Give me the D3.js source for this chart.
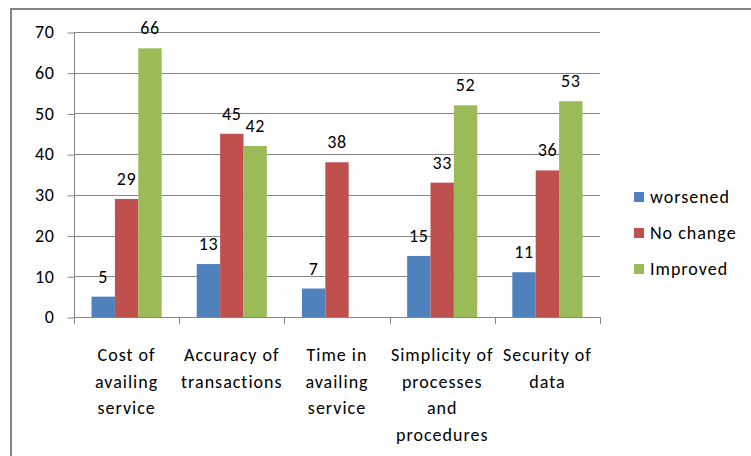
<!DOCTYPE html>
<html>
<head>
<meta charset="utf-8">
<script src="https://cdn.jsdelivr.net/npm/d3@7"></script>
<style>
  body { margin: 0; background: #fff; }
  svg text { font-family: Carlito, Lato, sans-serif; fill: #000; }
</style>
</head>
<body>
<script>
// chart data
var categories = ["Cost of\navailing\nservice", "Accuracy of\ntransactions", "Time in\navailing\nservice",
                  "Simplicity of\nprocesses\nand\nprocedures", "Security of\ndata"];
var seriesNames = ["worsened", "No change", "Improved"];
var worsened = [5, 13, 7, 15, 11];
var noChange = [29, 45, 38, 33, 36];
var improved = [66, 42, null, 52, 53];
var yTicks = [0, 10, 20, 30, 40, 50, 60, 70];
var colors = ["#4F81BD", "#C0504D", "#9BBB59"];

var width = 751, height = 456;
var svg = d3.select('body').append('svg').attr('width', width).attr('height', height);

// outer chart border
svg.append('rect').attr('x', 11).attr('y', 9).attr('width', 760).attr('height', 470)
  .attr('fill', 'none').attr('stroke', '#858585').attr('stroke-width', 2);

// plot area (window.top is reserved, so plot* names)
var plotLeft = 74, plotRight = 600, plotTop = 32, plotBottom = 317;

var x = d3.scaleBand().domain(d3.range(categories.length)).range([plotLeft, plotRight]).paddingInner(0).paddingOuter(0);
var y = d3.scaleLinear().domain([0, 70]).range([plotBottom, plotTop]);
var barW = x.bandwidth() / 4.5;
var inner = d3.scaleBand().domain(d3.range(3)).range([0, barW * 3]);

// gridlines
svg.append('g').selectAll('line').data(yTicks.slice(1)).enter().append('line')
  .attr('x1', plotLeft).attr('x2', plotRight)
  .attr('y1', function (d) { return Math.round(y(d)) + 0.5; }).attr('y2', function (d) { return Math.round(y(d)) + 0.5; })
  .attr('stroke', '#868686');

// bars
var series = [worsened, noChange, improved];
series.forEach(function (vals, s) {
  var g = svg.append('g');
  vals.forEach(function (v, i) {
    if (v == null) return;
    var bx = x(i) + (x.bandwidth() - barW * 3) / 2 + inner(s);
    g.append('rect').attr('x', bx).attr('y', y(v)).attr('width', barW).attr('height', plotBottom - y(v))
      .attr('fill', colors[s]);
    g.append('text').attr('x', bx + barW / 2).attr('y', y(v) - 14)
      .attr('text-anchor', 'middle').attr('font-size', 18).attr('letter-spacing', 0.6).text(v);
  });
});

// y axis
var yAxis = d3.axisLeft(y).tickValues(yTicks).tickSize(7).tickPadding(13);
var ya = svg.append('g').attr('transform', 'translate(' + (plotLeft + 0.5) + ',0)').call(yAxis);
ya.select('.domain').attr('stroke', '#868686').attr('d', 'M0,' + plotTop + 'V' + (plotBottom + 0.5));
ya.selectAll('.tick line').attr('stroke', '#868686').attr('transform', 'translate(0,0.5)');
ya.selectAll('.tick text').attr('font-size', 18).attr('letter-spacing', 0.6)
  .attr('font-family', 'Carlito, Lato, sans-serif').attr('fill', '#000');

// x axis line and ticks
svg.append('line').attr('x1', plotLeft).attr('x2', plotRight + 1).attr('y1', plotBottom + 0.5).attr('y2', plotBottom + 0.5)
  .attr('stroke', '#868686');
svg.append('g').selectAll('line').data(d3.range(categories.length + 1)).enter().append('line')
  .attr('x1', function (d) { return Math.round(plotLeft + d * x.bandwidth()) + 0.5; })
  .attr('x2', function (d) { return Math.round(plotLeft + d * x.bandwidth()) + 0.5; })
  .attr('y1', plotBottom).attr('y2', plotBottom + 7).attr('stroke', '#868686');

// category labels
categories.forEach(function (c, i) {
  var t = svg.append('text').attr('text-anchor', 'middle').attr('font-size', 18).attr('letter-spacing', 1)
    .attr('x', x(i) + x.bandwidth() / 2);
  c.split('\n').forEach(function (line, k) {
    t.append('tspan').attr('x', x(i) + x.bandwidth() / 2).attr('y', 361 + k * 26.5).text(line);
  });
});

// legend
var leg = svg.append('g');
seriesNames.forEach(function (n, s) {
  var cy = 197 + s * 36;
  leg.append('rect').attr('x', 634).attr('y', cy - 5).attr('width', 10).attr('height', 10).attr('fill', colors[s]);
  leg.append('text').attr('x', 650).attr('y', cy + 6).attr('font-size', 18).attr('letter-spacing', 1).text(n);
});
</script>
</body>
</html>
